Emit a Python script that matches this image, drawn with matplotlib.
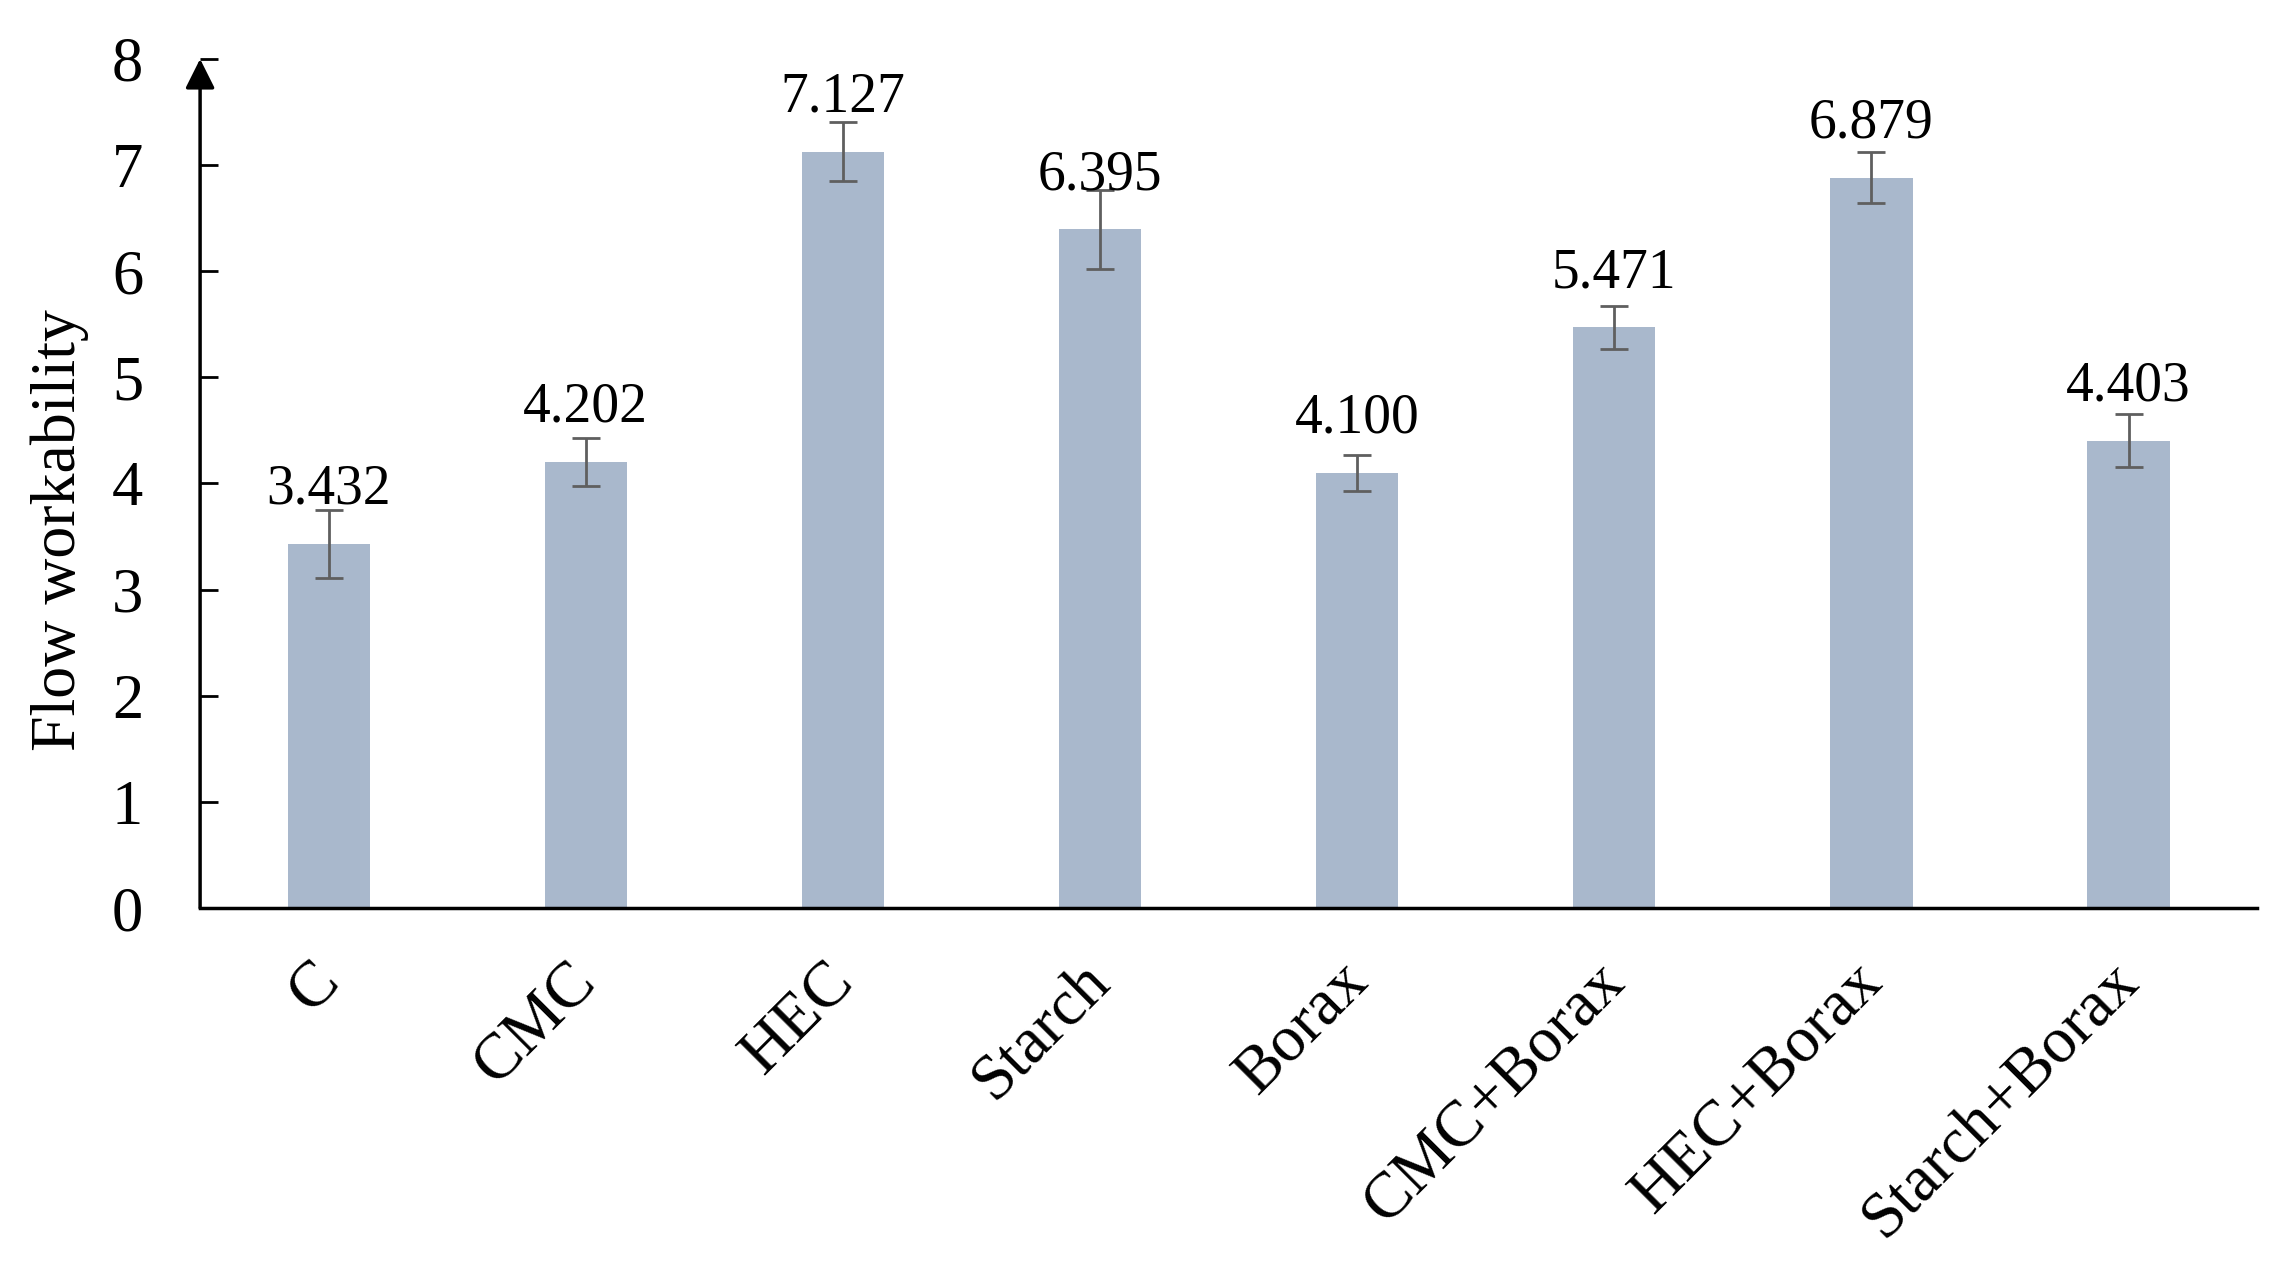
import matplotlib
matplotlib.use('Agg')
import matplotlib.pyplot as plt
import matplotlib.transforms as mtransforms

categories = ['C', 'CMC', 'HEC', 'Starch', 'Borax', 'CMC+Borax', 'HEC+Borax', 'Starch+Borax']
values = [3.432, 4.202, 7.127, 6.395, 4.100, 5.471, 6.879, 4.403]
errors = [0.32, 0.23, 0.28, 0.37, 0.17, 0.20, 0.24, 0.25]
labels = ['3.432', '4.202', '7.127', '6.395', '4.100', '5.471', '6.879', '4.403']

plt.rcParams['font.family'] = ['Liberation Serif', 'DejaVu Serif']

fig = plt.figure(figsize=(22.79, 12.68), dpi=100)
ax = fig.add_axes([0.0878, 0.2839, 0.9026, 0.6696])

x = list(range(len(categories)))
ax.bar(x, values, width=0.32, color='#a9b8cc', zorder=2)
ax.errorbar(x, values, yerr=errors, fmt='none', ecolor='#5f5f5f',
            elinewidth=2, capsize=10, capthick=2, zorder=3)

for xi, v, s in zip(x, values, labels):
    ax.annotate(s, xy=(xi, v), xytext=(0, 29), textcoords='offset points',
                ha='center', va='baseline', fontsize=40)

ax.set_xlim(-0.5, 7.5)
ax.set_ylim(0, 8)
ax.set_yticks(range(9))
ax.tick_params(axis='y', direction='in', length=13, width=2, labelsize=45, pad=41)
ax.tick_params(axis='x', length=0, labelsize=47, pad=31)
ax.set_xticks(x)
ax.set_xticklabels(categories, rotation=45, ha='right', rotation_mode='default')
shift = mtransforms.ScaledTranslation(22 / 100, 0, fig.dpi_scale_trans)
for t in ax.get_xticklabels():
    t.set_transform(t.get_transform() + shift)

for sp in ['top', 'right', 'left']:
    ax.spines[sp].set_visible(False)
ax.spines['bottom'].set_linewidth(2.5)

# y axis drawn as arrow
ax.annotate('', xy=(0, 1), xytext=(0, 0), xycoords='axes fraction',
            arrowprops=dict(arrowstyle='-|>', lw=2.5, color='k', mutation_scale=45,
                            shrinkA=0, shrinkB=0))

ax.set_ylabel('Flow workability', fontsize=46)
ax.yaxis.set_label_coords(-0.054, 0.445)

fig.savefig('out.png', dpi=100)
